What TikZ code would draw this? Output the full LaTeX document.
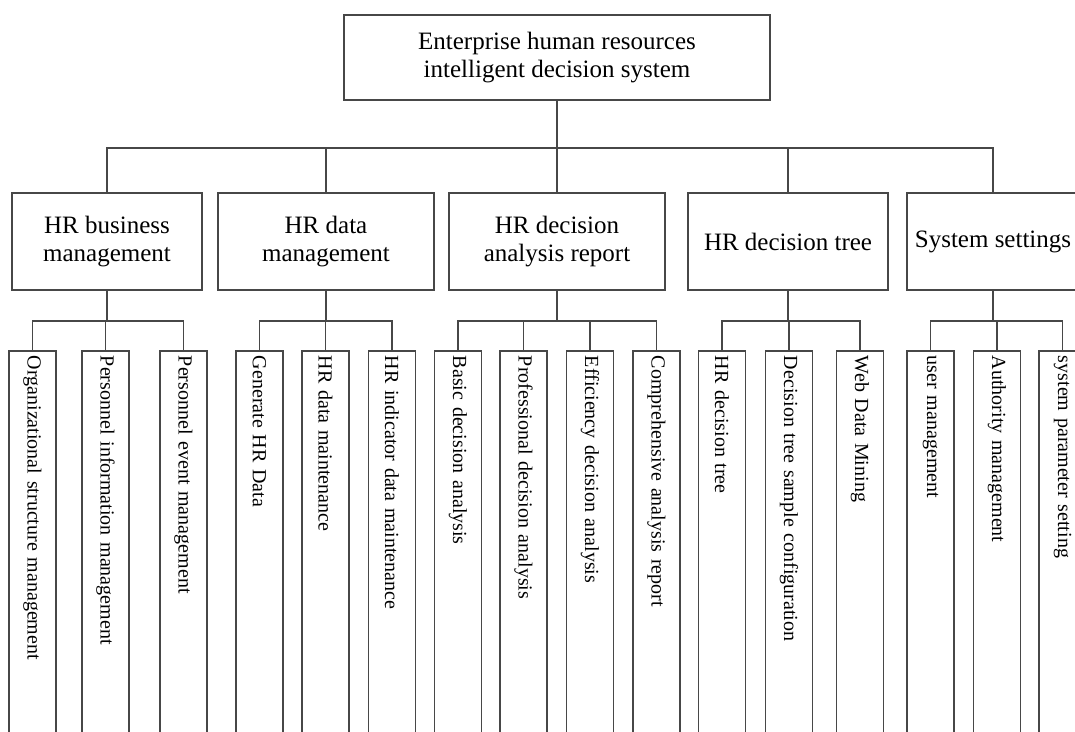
\documentclass[tikz,border=0pt]{standalone}
\usepackage{fontspec}
\setmainfont{Liberation Serif}
\begin{document}
\begin{tikzpicture}[x=1pt,y=-1pt,
  line width=1.8pt, color=black!72,
  box/.style={draw=black!72, line width=1.8pt, rectangle, inner sep=2pt, align=center,
    font=\fontsize{25pt}{28pt}\selectfont, text=black},
  leaf/.style={draw=black!72, line width=1.8pt, rectangle, rotate=-90, anchor=west,
    minimum height=47pt, inner xsep=5pt, inner ysep=0pt, text width=410pt, align=left,
    font=\fontsize{20pt}{24pt}\selectfont, text=black}]
\useasboundingbox (0,0) rectangle (1075,731);
\clip (0,0) rectangle (1075,731);
\fill[white] (0,0) rectangle (1075,731);

% bus levels
\coordinate (topbus) at (0,148);
\coordinate (subbus) at (0,321);

% root and first level
\node[box, minimum width=426pt, minimum height=85pt] (root) at (557,57.5)
  {Enterprise human resources\\intelligent decision system};
\node[box, minimum width=190pt, minimum height=97pt] (b1) at (107,241.5) {HR business\\management};
\node[box, minimum width=216pt, minimum height=97pt] (b2) at (326,241.5) {HR data\\management};
\node[box, minimum width=216pt, minimum height=97pt] (b3) at (557,241.5) {HR decision\\analysis report};
\node[box, minimum width=200pt, minimum height=97pt] (b4) at (788,241.5) {HR decision tree};
\node[box, minimum width=172pt, minimum height=97pt] (b5) at (993,241.5) {System settings};

% leaves
\node[leaf] (l11) at (32.5,350) {Organizational structure management};
\node[leaf] (l12) at (105.5,350) {Personnel information management};
\node[leaf] (l13) at (183.5,350) {Personnel event management};

\node[leaf] (l21) at (259.5,350) {Generate HR Data};
\node[leaf] (l22) at (325.5,350) {HR data maintenance};
\node[leaf] (l23) at (392,350) {HR indicator data maintenance};

\node[leaf] (l31) at (458,350) {Basic decision analysis};
\node[leaf] (l32) at (523.5,350) {Professional decision analysis};
\node[leaf] (l33) at (590,350) {Efficiency decision analysis};
\node[leaf] (l34) at (656.5,350) {Comprehensive analysis report};

\node[leaf] (l41) at (722,350) {HR decision tree};
\node[leaf] (l42) at (789,350) {Decision tree sample configuration};
\node[leaf] (l43) at (860,350) {Web Data Mining};

\node[leaf] (l51) at (930.5,350) {user management};
\node[leaf] (l52) at (997,350) {Authority management};
\node[leaf] (l53) at (1062.5,350) {system parameter setting};

% root to first level
\draw (root.south) -- (root.south |- topbus);
\draw (b1.north) |- (b5.north |- topbus) -- (b5.north);
\foreach \b in {b2,b3,b4}
  \draw (\b.north) -- (\b.north |- topbus);

% first level to leaves
\foreach \p/\first/\last/\mids in {b1/l11/l13/{l12}, b2/l21/l23/{l22},
    b3/l31/l34/{l32,l33}, b4/l41/l43/{l42}, b5/l51/l53/{l52}} {
  \draw (\p.south) -- (\p.south |- subbus);
  \draw (\first.west) |- (\last.west |- subbus) -- (\last.west);
  \foreach \m in \mids
    \draw (\m.west) -- (\m.west |- subbus);
}
\end{tikzpicture}
\end{document}
